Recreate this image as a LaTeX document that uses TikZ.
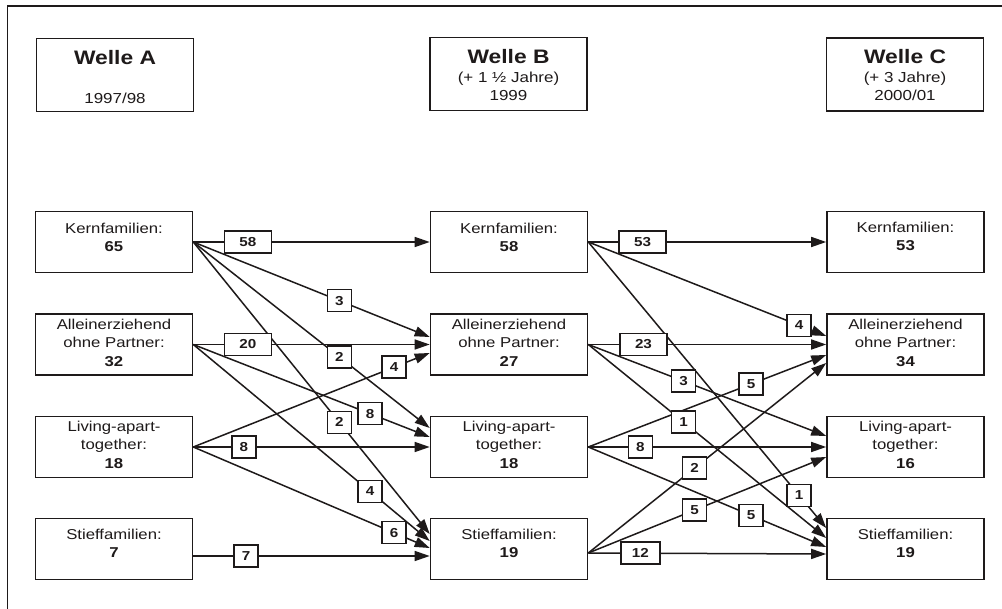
\documentclass[tikz,border=0pt]{standalone}
\usepackage{fontspec}
\setmainfont{Liberation Sans}[FakeStretch=1.17]
\usetikzlibrary{arrows.meta,calc}
\definecolor{ink}{RGB}{30,26,26}
\pgfdeclarelayer{bg}
\pgfsetlayers{bg,main}
\begin{document}
\begin{tikzpicture}[x=1pt,y=-1pt,
  hbox/.style={draw=ink, line width=1.6pt, minimum width=157pt, minimum height=73pt, inner sep=0pt},
  rbox/.style={draw=ink, line width=1.6pt, minimum width=157pt, minimum height=61pt, inner sep=0pt},
  htitle/.style={anchor=base, inner sep=0pt, text=ink, font=\fontsize{19.5}{22}\selectfont\bfseries},
  hsub/.style={anchor=base, inner sep=0pt, text=ink, font=\fontsize{14.5}{18}\selectfont},
  rtxt/.style={anchor=north, align=center, inner sep=0pt, text=ink, font=\fontsize{14.3}{18.5}\selectfont},
  flow/.style={draw=ink, line width=1.5pt, -{Triangle[length=15pt,width=10pt]}},
  lab/.style={draw=ink, fill=white, line width=1.5pt, text=ink, font=\fontsize{13}{13}\selectfont\bfseries, minimum width=24pt, minimum height=22pt, inner sep=0pt},
  wide/.style={minimum width=47pt},
]
\useasboundingbox (0,0) rectangle (1002,609);
\begin{pgfonlayer}{bg}
\fill[white] (0,0) rectangle (1002,609);
\end{pgfonlayer}
\draw[ink, line width=1.8pt] (7.5,609) -- (7.5,6) -- (1002,6);

% header boxes
\node[hbox] (WA) at (115,75) {};
\node[hbox] (WB) at (508.5,74) {};
\node[hbox] (WC) at (905,74.5) {};
\node[htitle] (WAt) at (115,65) {Welle A};
\node[hsub] (WAy) at (115,104) {1997/98};
\node[htitle] (WBt) at (508.5,64) {Welle B};
\node[hsub] (WBs) at (508.5,83) {(+ 1 ½ Jahre)};
\node[hsub] (WBy) at (508.5,101) {1999};
\node[htitle] (WCt) at (905,64) {Welle C};
\node[hsub] (WCs) at (905,83) {(+ 3 Jahre)};
\node[hsub] (WCy) at (905,101) {2000/01};

% row boxes
\foreach \c/\x in {A/114,B/509,C/905.5}{
  \node[rbox] (K\c) at (\x,242) {};
  \node[rbox] (A\c) at (\x,344.5) {};
  \node[rbox] (L\c) at (\x,447) {};
  \node[rbox] (S\c) at (\x,549) {};
}
\node[rtxt] (tKA) at (114,222.6) {Kernfamilien:\\\textbf{65}};
\node[rtxt] (tAA) at (114,318.6) {Alleinerziehend\\ohne Partner:\\\textbf{32}};
\node[rtxt] (tLA) at (114,420.6) {Living-apart-\\together:\\\textbf{18}};
\node[rtxt] (tSA) at (114,528.6) {Stieffamilien:\\\textbf{7}};
\node[rtxt] (tKB) at (509,222.6) {Kernfamilien:\\\textbf{58}};
\node[rtxt] (tAB) at (509,318.6) {Alleinerziehend\\ohne Partner:\\\textbf{27}};
\node[rtxt] (tLB) at (509,420.6) {Living-apart-\\together:\\\textbf{18}};
\node[rtxt] (tSB) at (509,528.6) {Stieffamilien:\\\textbf{19}};
\node[rtxt] (tKC) at (905.5,221.6) {Kernfamilien:\\\textbf{53}};
\node[rtxt] (tAC) at (905.5,318.6) {Alleinerziehend\\ohne Partner:\\\textbf{34}};
\node[rtxt] (tLC) at (905.5,420.6) {Living-apart-\\together:\\\textbf{16}};
\node[rtxt] (tSC) at (905.5,528.6) {Stieffamilien:\\\textbf{19}};

% connectors
% wave A -> B
\draw[flow] (KA.east) -- coordinate[pos=.231] (c1) (KB.west);
\draw[flow] (KA.east) -- coordinate[pos=.618] (c2) ($(AB.west)+(0,-7.5)$);
\draw[flow] (KA.east) -- coordinate[pos=.618] (c3) ($(LB.west)+(0,-19)$);
\draw[flow] (KA.east) -- coordinate[pos=.618] (c4) ($(SB.west)+(0,-15)$);
\draw[flow] (AA.east) -- coordinate[pos=.231] (c5) (AB.west);
\draw[flow] (AA.east) -- coordinate[pos=.748] (c6) ($(LB.west)+(0,-10)$);
\draw[flow] (AA.east) -- coordinate[pos=.748] (c7) ($(SB.west)+(0,-8)$);
\draw[flow] (LA.east) -- coordinate[pos=.849] (c8) ($(AB.west)+(0,8.5)$);
\draw[flow] (LA.east) -- coordinate[pos=.214] (c9) (LB.west);
\draw[flow] (LA.east) -- coordinate[pos=.849] (c10) ($(SB.west)+(0,-1)$);
\draw[flow] ($(SA.east)+(0,7)$) -- coordinate[pos=.223] (c11) ($(SB.west)+(0,7)$);
% wave B -> C
\draw[flow] (KB.east) -- coordinate[pos=.228] (d1) (KC.west);
\draw[flow] (KB.east) -- coordinate[pos=.886] (d2) ($(AC.west)+(0,-8.5)$);
\draw[flow] (KB.east) -- coordinate[pos=.886] (d3) ($(SC.west)+(0,-21)$);
\draw[flow] (AB.east) -- coordinate[pos=.232] (d4) (AC.west);
\draw[flow] (AB.east) -- coordinate[pos=.401] (d5) ($(LC.west)+(0,-11)$);
\draw[flow] (AB.east) -- coordinate[pos=.401] (d6) ($(SC.west)+(0,-11)$);
\draw[flow] (LB.east) -- coordinate[pos=.684] (d7) ($(AC.west)+(0,10.5)$);
\draw[flow] (LB.east) -- coordinate[pos=.219] (d8) (LC.west);
\draw[flow] (LB.east) -- coordinate[pos=.684] (d9) ($(SC.west)+(0,-2)$);
\draw[flow] ($(SB.east)+(0,4)$) -- coordinate[pos=.447] (d10) ($(AC.west)+(0,18.5)$);
\draw[flow] ($(SB.east)+(0,4)$) -- coordinate[pos=.447] (d11) ($(LC.west)+(0,10)$);
\draw[flow] ($(SB.east)+(0,4)$) -- coordinate[pos=.219] (d12) ($(SC.west)+(0,5)$);

% labels
\node[lab,wide] (n1) at (c1) {58};
\node[lab] (n2) at (c2) {3};
\node[lab] (n3) at (c3) {2};
\node[lab] (n4) at (c4) {2};
\node[lab,wide] (n5) at (c5) {20};
\node[lab] (n6) at (c6) {8};
\node[lab] (n7) at (c7) {4};
\node[lab] (n8) at (c8) {4};
\node[lab] (n9) at (c9) {8};
\node[lab] (n10) at (c10) {6};
\node[lab] (n11) at (c11) {7};
\node[lab,wide] (m1) at (d1) {53};
\node[lab] (m2) at (d2) {4};
\node[lab] (m3) at (d3) {1};
\node[lab,wide] (m4) at (d4) {23};
\node[lab] (m5) at (d5) {3};
\node[lab] (m6) at (d6) {1};
\node[lab] (m7) at (d7) {5};
\node[lab] (m8) at (d8) {8};
\node[lab] (m9) at (d9) {5};
\node[lab] (m10) at (d10) {2};
\node[lab] (m11) at (d11) {5};
\node[lab,minimum width=39pt] (m12) at (d12) {12};
\end{tikzpicture}
\end{document}
